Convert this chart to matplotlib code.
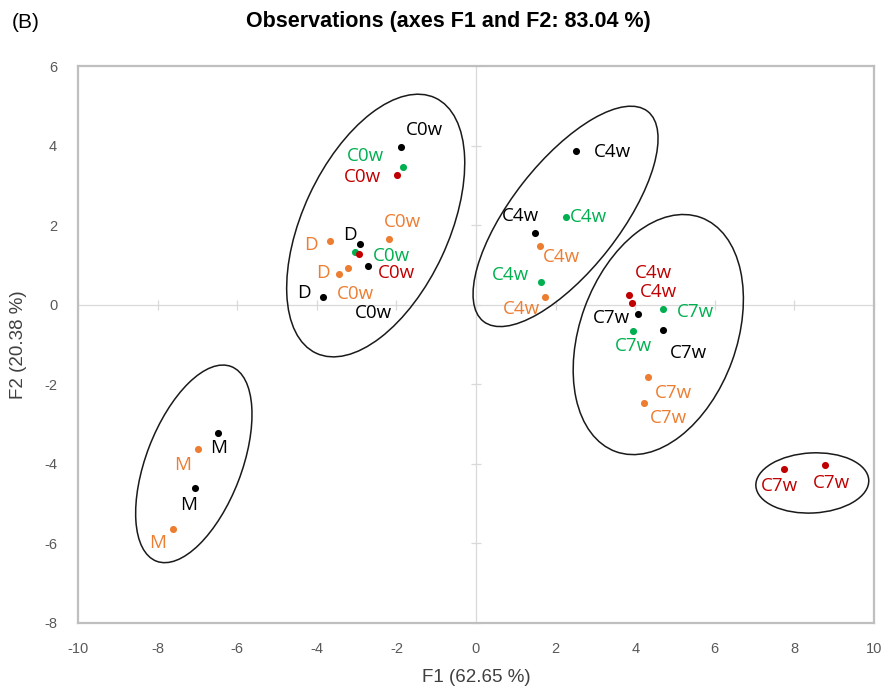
import matplotlib
matplotlib.use("Agg")
import matplotlib.pyplot as plt
from matplotlib.patches import Ellipse

plt.rcParams["axes.unicode_minus"] = False

# observations on the F1/F2 plane, one list set per series
black_x = [-1.89, -2.92, -2.72, -3.85, 2.52, 1.48, 4.08, 4.70, -6.49, -7.07]
black_y = [3.97, 1.53, 0.98, 0.20, 3.87, 1.81, -0.23, -0.63, -3.22, -4.60]
black_labels = ["C0w", "D", "C0w", "D", "C4w", "C4w", "C7w", "C7w", "M", "M"]

green_x = [-1.84, -3.04, 2.26, 1.64, 4.70, 3.95]
green_y = [3.47, 1.33, 2.21, 0.58, -0.10, -0.65]
green_labels = ["C0w", "C0w", "C4w", "C4w", "C7w", "C7w"]

red_x = [-1.99, -2.94, 3.85, 3.92, 7.75, 8.78]
red_y = [3.25, 1.28, 0.25, 0.05, -4.12, -4.02]
red_labels = ["C0w", "C0w", "C4w", "C4w", "C7w", "C7w"]

orange_x = [-2.19, -3.67, -3.22, -3.45, 1.61, 1.74, 4.33, 4.23, -6.99, -7.62]
orange_y = [1.64, 1.61, 0.93, 0.78, 1.48, 0.20, -1.81, -2.46, -3.62, -5.63]
orange_labels = ["C0w", "D", "C0w", "D", "C4w", "C4w", "C7w", "C7w", "M", "M"]

# group ellipses: centre x, centre y, width, height, angle
groups = [
    (-2.52, 1.99, 7.08, 3.67, 65),
    (2.25, 2.22, 6.70, 2.72, 52),
    (4.58, -0.75, 6.26, 3.94, 70),
    (-7.09, -4.00, 5.24, 2.40, 69),
    (8.45, -4.48, 2.84, 1.51, 3),
]

x_ticks = list(range(-10, 11, 2))
y_ticks = list(range(-8, 7, 2))

# label placement (pixels right / up from each point)
black_off = [(24, 17), (-10, 9), (6, -47), (-19, 4), (36, -1), (-14, 17),
             (-27, -4), (25, -23), (1, -15), (-6, -17)]
green_off = [(-37, 11), (36, -4), (22, 0), (-31, 7), (32, -3), (0, -15)]
red_off = [(-34, -2), (37, -19), (24, 22), (26, 11), (-5, -17), (6, -18)]
orange_off = [(14, 17), (-19, -4), (8, -26), (-16, 1), (21, -11), (-24, -12),
              (25, -16), (24, -15), (-15, -16), (-15, -14)]

narrow = ["Liberation Sans Narrow", "Liberation Sans", "DejaVu Sans"]
label_font = ["Open Sans", "DejaVu Sans"]

fig = plt.figure(figsize=(8.85, 6.94), dpi=100)
box = [78 / 885, 1 - 623 / 694, (874 - 78) / 885, (623 - 66) / 694]

# zero lines with cross ticks, drawn behind the points
ax0 = fig.add_axes(box)
ax0.set_zorder(1)
ax0.set_xlim(-10, 10)
ax0.set_ylim(-8, 6)
ax0.set_xticks(x_ticks)
ax0.set_yticks(y_ticks)
ax0.patch.set_visible(False)
for side in ["top", "right"]:
    ax0.spines[side].set_visible(False)
for side in ["left", "bottom"]:
    ax0.spines[side].set_position(("data", 0))
    ax0.spines[side].set_color("#d9d9d9")
    ax0.spines[side].set_linewidth(0.9)
ax0.tick_params(direction="inout", length=7, width=0.9, color="#d9d9d9",
                labelleft=False, labelbottom=False)

ax = fig.add_axes(box)
ax.set_zorder(2)
ax.patch.set_visible(False)
ax.set_xlim(-10, 10)
ax.set_ylim(-8, 6)
ax.set_xticks(x_ticks)
ax.set_yticks(y_ticks)
for side in ax.spines:
    ax.spines[side].set_color("#bfbfbf")
    ax.spines[side].set_linewidth(1.6)
ax.tick_params(length=0, pad=15, labelsize=10.5, labelcolor="#595959")
ax.tick_params(axis="x", pad=14)
for t in ax.get_xticklabels() + ax.get_yticklabels():
    t.set_family(narrow)

series = [
    (black_x, black_y, black_labels, black_off, "#000000"),
    (green_x, green_y, green_labels, green_off, "#00b050"),
    (red_x, red_y, red_labels, red_off, "#c00000"),
    (orange_x, orange_y, orange_labels, orange_off, "#ed7d31"),
]
for xs, ys, labels, offs, color in series:
    ax.scatter(xs, ys, s=26, color=color, zorder=3, linewidths=0)
    for xv, yv, lab, off in zip(xs, ys, labels, offs):
        ax.annotate(lab, (xv, yv), xytext=off, textcoords="offset pixels",
                    ha="center", va="center", color=color, fontsize=13.5,
                    family=label_font, zorder=4)

for cx, cy, w, h, ang in groups:
    ax.add_patch(Ellipse((cx, cy), w, h, angle=ang, fill=False,
                         edgecolor="#1a1a1a", linewidth=1.1, zorder=2))

ax.set_xlabel("F1 (62.65 %)", family=narrow, fontsize=13.5, color="#404040",
              labelpad=9)
ax.set_ylabel("F2 (20.38 %)", family=narrow, fontsize=13.5, color="#404040",
              labelpad=12)
fig.text(448 / 885, 1 - 21 / 694, "Observations (axes F1 and F2: 83.04 %)",
         ha="center", va="center", fontsize=15.5, fontweight="bold",
         family=narrow)
fig.text(12 / 885, 1 - 22 / 694, "(B)", ha="left", va="center", fontsize=15,
         family=narrow)

fig.savefig("out.png", dpi=100)
